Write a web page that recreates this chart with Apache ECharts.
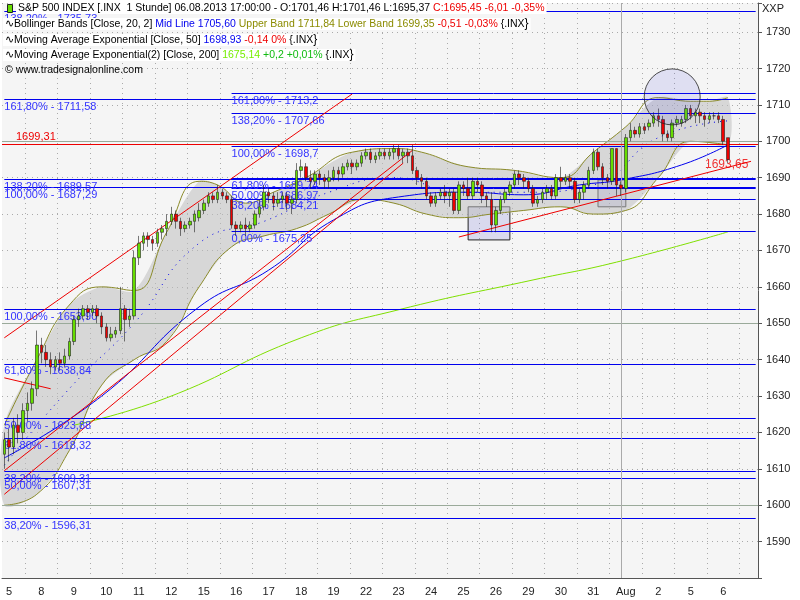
<!DOCTYPE html>
<html>
<head>
<meta charset="utf-8">
<script src="https://cdn.jsdelivr.net/npm/echarts@6/dist/echarts.min.js"></script>
<style>html,body{margin:0;padding:0;background:#fff}#chart{width:800px;height:600px}</style>
</head>
<body>
<div id="chart"></div>
<script>
// S&P 500 INDEX, 1 Stunde
const dayLabels = ['5','8','9','10','11','12','15','16','17','18','19','22','23','24','25','26','29','30','31','Aug','2','5','6'];
const barsPerDay = 7;
const slots = 163;

// [open, close, low, high] per hour
const bars = [
  [1614,1618,1610,1620],[1618,1616,1612,1621],[1616,1622,1614,1624],[1622,1620,1617,1625],[1620,1626,1618,1628],[1626,1628,1623,1631],[1628,1632,1626,1634],
  [1632,1644,1630,1648],[1644,1642,1639,1646],[1642,1640,1638,1644],[1640,1638,1636,1642],[1638,1640,1637,1641],[1640,1639,1637,1642],[1639,1641,1638,1643],
  [1641,1645,1640,1646],[1645,1651,1644,1652],[1651,1652,1649,1654],[1652,1654,1651,1655],[1654,1653,1651,1655],[1653,1654,1652,1655],[1654,1652,1650,1655],
  [1652,1649,1647,1653],[1649,1646,1645,1650],[1646,1647,1645,1649],[1647,1648,1646,1649],[1648,1654,1647,1660],[1654,1651,1645,1655],[1651,1652,1649,1654],
  [1652,1668,1651,1670],[1668,1672,1666,1674],[1672,1674,1670,1675],[1674,1673,1671,1675],[1673,1672,1670,1674],[1672,1675,1671,1676],[1675,1676,1673,1677],
  [1676,1678,1674,1680],[1678,1680,1677,1682],[1680,1678,1676,1681],[1678,1676,1674,1679],[1676,1677,1675,1678],[1677,1678,1676,1679],[1678,1680,1675,1681],
  [1679,1681,1678,1683],[1681,1683,1680,1684],[1683,1685,1682,1686],[1685,1684,1683,1686],[1684,1686,1683,1688],[1686,1685,1684,1687],[1685,1684,1683,1686],
  [1684,1677,1676,1685],[1677,1676,1674,1678],[1676,1677,1675,1678],[1677,1676,1674,1679],[1676,1677,1675,1678],[1677,1680,1676,1681],[1680,1682,1679,1684],
  [1682,1686,1681,1688],[1686,1685,1683,1687],[1685,1683,1681,1686],[1683,1684,1682,1686],[1684,1685,1683,1686],[1685,1683,1681,1686],[1683,1684,1680,1685],
  [1684,1692,1683,1694],[1692,1693,1690,1695],[1693,1690,1689,1694],[1690,1689,1687,1692],[1689,1691,1688,1692],[1691,1690,1688,1692],[1690,1689,1687,1691],
  [1689,1690,1687,1692],[1690,1692,1689,1693],[1692,1691,1689,1693],[1691,1693,1690,1694],[1693,1694,1692,1695],[1694,1693,1691,1695],[1693,1694,1692,1695],
  [1694,1696,1693,1697],[1696,1697,1695,1698],[1697,1695,1694,1698],[1695,1696,1694,1697],[1696,1697,1695,1698],[1697,1696,1695,1698],[1696,1697,1695,1698],
  [1697,1698,1695,1699],[1698,1696,1695,1699],[1696,1697,1694,1698],[1697,1696,1694,1698],[1696,1692,1691,1699],[1692,1690,1688,1693],[1690,1689,1687,1691],
  [1689,1685,1684,1690],[1685,1683,1682,1686],[1683,1685,1682,1686],[1685,1686,1684,1687],[1686,1685,1683,1688],[1685,1686,1682,1687],[1686,1681,1680,1687],
  [1681,1688,1680,1689],[1688,1687,1685,1689],[1687,1685,1684,1690],[1685,1689,1684,1690],[1689,1688,1686,1690],[1688,1685,1683,1689],[1685,1684,1682,1686],
  [1684,1677,1675,1686],[1677,1681,1675,1682],[1681,1684,1680,1685],[1684,1686,1683,1687],[1686,1688,1685,1689],[1688,1691,1687,1692],[1691,1690,1688,1692],
  [1690,1689,1687,1691],[1689,1687,1686,1690],[1687,1683,1682,1688],[1683,1684,1682,1685],[1684,1686,1683,1687],[1686,1687,1684,1688],[1687,1685,1684,1688],
  [1685,1690,1684,1691],[1690,1689,1687,1693],[1689,1690,1688,1691],[1690,1689,1687,1691],[1689,1684,1683,1690],[1684,1686,1683,1687],[1686,1688,1684,1689],
  [1688,1692,1687,1693],[1692,1697,1691,1698],[1697,1693,1692,1698],[1693,1690,1688,1694],[1690,1689,1687,1691],[1689,1698,1688,1698],[1698,1688,1685,1698],
  [1688,1687,1685,1689],[1687,1701,1686,1702],[1701,1703,1700,1705],[1703,1702,1701,1704],[1702,1704,1701,1705],[1704,1703,1702,1705],[1704,1705,1703,1706],
  [1705,1707,1704,1708],[1707,1706,1704,1709],[1706,1702,1700,1707],[1702,1701,1700,1703],[1701,1705,1700,1706],[1705,1706,1704,1707],[1705,1706,1704,1707],
  [1706,1709,1705,1710],[1709,1707,1706,1710],[1707,1708,1705,1709],[1708,1707,1705,1709],[1707,1706,1704,1708],[1706,1707,1705,1708],[1707,1707,1706,1708],
  [1707,1706,1705,1708],[1706,1700,1699,1707],[1701,1695,1694,1701]
];

// indicator readings [bar index, price]
const bandUpper = [[0,1622],[7,1640],[14,1655],[21,1660],[28,1659],[35,1675],[42,1689],[46,1688],[52,1683],[58,1686],[65,1690],[75,1697],[84,1698],[90,1697],[100,1693],[110,1692],[120,1690],[127,1697],[134,1704],[141,1712],[148,1711],[152,1711],[156,1712]];
const bandLower = [[0,1600],[7,1603],[14,1615],[21,1633],[28,1640],[35,1645],[42,1660],[49,1671],[56,1674],[63,1676],[70,1680],[77,1684],[84,1683],[91,1680],[98,1679],[105,1680],[112,1681],[120,1682],[127,1680],[134,1681],[141,1690],[148,1700],[156,1699]];
const midLine = [[0,1611],[14,1632],[28,1650],[42,1672],[56,1678],[70,1686],[84,1690],[98,1686],[112,1686],[127,1688],[141,1701],[156,1705.6]];
const ema50 = [[0,1613],[21,1630],[42,1654.5],[57,1664.6],[71,1678.4],[85,1684.7],[100,1686],[112,1685.3],[124,1688],[133,1689.4],[146,1693.5],[156,1699]];
const ema200 = [[15,1622],[35,1629.5],[64,1646],[85,1653.7],[114,1661.9],[132,1666.8],[156,1675.1]];

// fibonacci levels [price, label]
const fibFull = [[1735.73,'138,20% - 1735,73'],[1711.58,'161,80% - 1711,58'],[1689.57,'138,20% - 1689,57'],[1687.29,'100,00% - 1687,29'],[1653.9,'100,00% - 1653,90'],[1638.84,'61,80% - 1638,84'],[1623.88,'50,00% - 1623,88'],[1618.32,'61,80% - 1618,32'],[1609.31,'38,20% - 1609,31'],[1607.31,'50,00% - 1607,31'],[1596.31,'38,20% - 1596,31']];
const fibMid = [[1713.2,'161,80% - 1713,2'],[1707.66,'138,20% - 1707,66'],[1698.7,'100,00% - 1698,7'],[1689.74,'61,80% - 1689,74'],[1686.97,'50,00% - 1686,97'],[1684.21,'38,20% - 1684,21'],[1675.25,'0,00% - 1675,25']];
const fibMidStart = 49;
const redLevel = 1699.31;
const grayLevels = [1700, 1650, 1600];
const monthStart = 133;
// trend lines [[idx, price], [idx, price]]
const trendLines = [[[0,1646],[75,1713]],[[0,1609.5],[88,1697.5]],[[0,1603],[86,1694]],[[97.8,1673.7],[161,1694.5]],[[0,1635],[10,1632]]];
const boxes = [[[99.5,1682],[108.8,1672.9]],[[127.6,1689.4],[134,1682]]];
const circle = [143.6,1712.2];

const cats = Array.from({length: slots}, (_, i) => String(i));

const fibLabel = {show:true, position:'insideStartBottom', distance:[0,2], color:'#3333ff', fontSize:11, fontFamily:'Liberation Sans', formatter: p => p.data.tag || p.name};
const markLines = [];
fibFull.forEach(f => markLines.push([{coord:[0,f[0]], tag:f[1]},{coord:[slots-1,f[0]]}]));
fibMid.forEach(f => markLines.push([{coord:[fibMidStart,f[0]], tag:f[1]},{coord:[slots-1,f[0]]}]));

const F = '10.5px Liberation Sans';
const solid = c => ({color:c, width:1, type:'solid'});

const chart = echarts.init(document.getElementById('chart'));
const option = {
  animation:false,
  backgroundColor:'#ffffff',
  grid:{left:2, right:42, top:3, bottom:22, show:true, backgroundColor:'#f5f5f5', borderWidth:0},
  xAxis:{
    type:'category', data:cats, boundaryGap:true,
    axisLine:{lineStyle:{color:'#555'}},
    axisTick:{interval:(i)=> i % barsPerDay === 0, length:4, lineStyle:{color:'#555'}},
    axisLabel:{interval:(i)=> i % barsPerDay === 1 && i/barsPerDay < dayLabels.length, formatter:(v,i)=> dayLabels[Math.floor(i/barsPerDay)], color:'#222', fontSize:11, fontFamily:'Liberation Sans'},
    splitLine:{show:true, interval:(i)=> i % barsPerDay === 5, lineStyle:{color:'#aaa', type:[1,4]}}
  },
  yAxis:{
    type:'value', position:'right', min:1580, max:1738, interval:10,
    axisLine:{show:true, lineStyle:{color:'#555'}},
    axisTick:{show:true, length:4},
    axisLabel:{color:'#222', fontSize:11, fontFamily:'Liberation Sans', formatter: v => (v === 1580 || v > 1730) ? '' : String(v)},
    splitLine:{show:true, lineStyle:{color:'#aaa', type:[1,4]}}
  },
  series:[
    {
      type:'custom', silent:true, z:1,
      data:[0],
      renderItem:(params, api) => {
        const pts = bandUpper.map(p => api.coord(p)).concat(bandLower.slice().reverse().map(p => api.coord(p)));
        return {type:'polygon', shape:{points:pts, smooth:0.3}, style:{fill:'rgba(190,190,190,0.55)', stroke:null}};
      }
    },
    {type:'line', data:bandUpper, smooth:true, symbol:'none', silent:true, lineStyle:{color:'#8b8b2a', width:1}, z:2},
    {type:'line', data:bandLower, smooth:true, symbol:'none', silent:true, lineStyle:{color:'#8b8b2a', width:1}, z:2},
    {type:'line', data:midLine, smooth:true, symbol:'none', silent:true, lineStyle:{color:'#0000ee', width:1, type:[1,5]}, z:2},
    {type:'line', data:ema200, smooth:true, symbol:'none', silent:true, lineStyle:{color:'#7fe000', width:1}, z:3},
    {type:'line', data:ema50, smooth:true, symbol:'none', silent:true, lineStyle:{color:'#0000ee', width:1}, z:3},
    {
      type:'candlestick', data:bars, barWidth:3, z:5,
      itemStyle:{color:'#66dd00', color0:'#ee0000', borderColor:'#222', borderColor0:'#222', borderWidth:0.6},
      markLine:{silent:true, symbol:'none', lineStyle:solid('#0000ee'), label:fibLabel, data:markLines}
    },
    {
      type:'line', data:[], silent:true,
      markLine:{silent:true, symbol:'none', data:[
        ...grayLevels.map(v => ({yAxis:v, lineStyle:solid('#9aaa9a'), label:{show:false}})),
        {xAxis:monthStart, lineStyle:solid('#aaa'), label:{show:false}},
        {yAxis:redLevel, lineStyle:solid('#ee0000'), label:{show:true, position:'insideStartTop', distance:[14,1], formatter:'1699,31', color:'#ee0000', fontSize:11, fontFamily:'Liberation Sans'}},
        ...trendLines.map(t => [{coord:t[0], lineStyle:solid('#ee0000'), label:{show:false}},{coord:t[1]}])
      ]},
      markArea:{silent:true, itemStyle:{color:'rgba(60,60,200,0.15)', borderColor:'#222', borderWidth:1}, data: boxes.map(b => [{coord:b[0]},{coord:b[1]}])}
    },
    {type:'scatter', data:[circle], symbolSize:56, silent:true, z:6, itemStyle:{color:'rgba(60,60,220,0.15)', borderColor:'#222', borderWidth:1}},
    {type:'scatter', data:[[150,1693.65]], symbolSize:0, silent:true, label:{show:true, formatter:'1693,65', color:'#ee0000', fontSize:12, fontFamily:'Liberation Sans', position:'right'}}
  ],
  graphic:[
    {type:'text', left:762, top:3, style:{text:'XXP', fill:'#222', font:'11px Liberation Sans'}},
    {type:'rect', left:7, top:4, shape:{width:5, height:8}, style:{fill:'#66dd00', stroke:'#222'}, z:100},
    {type:'text', left:16, top:3, z:100, style:{backgroundColor:'#fff', padding:[0,2], rich:{k:{fill:'#000',font:F},r:{fill:'#ee0000',font:F}}, text:'{k|S&P 500 INDEX [.INX  1 Stunde] 06.08.2013 17:00:00 - O:1701,46 H:1701,46 L:1695,37 }{r|C:1695,45 -6,01 -0,35%}'}},
    {type:'text', left:3, top:18, z:100, style:{backgroundColor:'#fff', padding:[0,2], rich:{k:{fill:'#000',font:F},b:{fill:'#0000ee',font:F},o:{fill:'#8b8b00',font:F},r:{fill:'#ee0000',font:F}}, text:'{k|∿Bollinger Bands [Close, 20, 2] }{b|Mid Line 1705,60 }{o|Upper Band 1711,84 Lower Band 1699,35 }{r|-0,51 -0,03% }{k|{.INX}}'}},
    {type:'text', left:3, top:34, z:100, style:{backgroundColor:'#fff', padding:[0,2], rich:{k:{fill:'#000',font:F},b:{fill:'#0000ee',font:F},r:{fill:'#ee0000',font:F}}, text:'{k|∿Moving Average Exponential [Close, 50] }{b|1698,93 }{r|-0,14 0% }{k|{.INX}}'}},
    {type:'text', left:3, top:49, z:100, style:{backgroundColor:'#fff', padding:[0,2], rich:{k:{fill:'#000',font:F},g:{fill:'#77ee00',font:F},d:{fill:'#11bb11',font:F}}, text:'{k|∿Moving Average Exponential(2) [Close, 200] }{g|1675,14 }{d|+0,2 +0,01% }{k|{.INX}}'}},
    {type:'text', left:5, top:65, z:100, style:{text:'© www.tradesignalonline.com', fill:'#000', font:F}}
  ]
};
chart.setOption(option);
</script>
</body>
</html>
